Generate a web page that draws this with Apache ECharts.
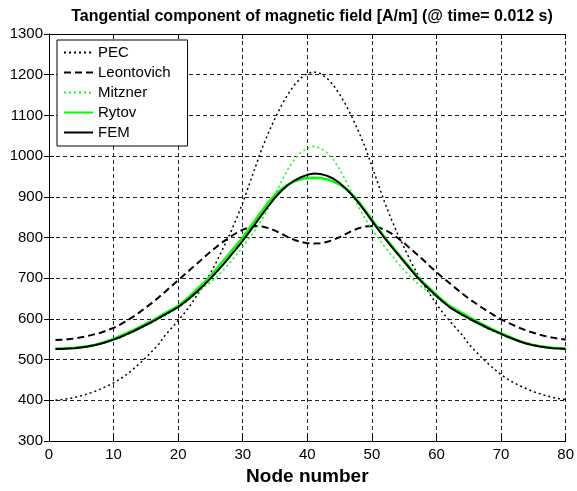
<!DOCTYPE html>
<html>
<head>
<meta charset="utf-8">
<script src="https://cdn.jsdelivr.net/npm/echarts@6/dist/echarts.min.js"></script>
<style>
html,body{margin:0;padding:0;background:#fff;}
#c{width:577px;height:491px;}
</style>
</head>
<body>
<div id="c"></div>
<script>
var titleText = 'Tangential component of magnetic field [A/m] (@ time= 0.012 s)';
var xName = 'Node number';
var seriesNames = ['PEC', 'Leontovich', 'Mitzner', 'Rytov', 'FEM'];
var xTicks = [0, 10, 20, 30, 40, 50, 60, 70, 80];
var yTicks = [300, 400, 500, 600, 700, 800, 900, 1000, 1100, 1200, 1300];

var nodes = [1,2,3,4,5,6,7,8,9,10,11,12,13,14,15,16,17,18,19,20,
  21,22,23,24,25,26,27,28,29,30,31,32,33,34,35,36,37,38,39,40,
  41,42,43,44,45,46,47,48,49,50,51,52,53,54,55,56,57,58,59,60,
  61,62,63,64,65,66,67,68,69,70,71,72,73,74,75,76,77,78,79,80];

var pec = [400,402,404,407,411,416,421,428,435,443,452,463,476,490,505,521,538,560,578,596,
  615,636,660,685,712,742,775,808,845,885,930,975,1020,1058,1093,1125,1152,1175,1192,1203,
  1207,1203,1192,1175,1152,1125,1093,1058,1020,975,930,885,845,808,775,742,712,685,660,636,
  615,596,578,560,538,521,505,490,476,463,452,443,435,428,421,416,411,407,404,402];

var leontovich = [548,549,550,552,555,558,562,566,572,578,586,595,605,616,628,640,653,667,681,695,
  709,723,737,751,765,778,790,801,811,819,825,828,827,823,817,809,801,794,789,786,
  785,786,789,794,801,809,817,823,827,828,825,819,810,799,786,772,758,744,729,715,
  701,688,675,662,650,639,628,618,608,599,591,584,577,571,566,561,557,554,551,549];

var mitzner = [526,526,527,528,530,532,535,539,543,548,554,561,568,576,584,592,600,609,618,628,
  639,651,664,678,690,703,720,738,757,777,798,820,845,873,905,938,968,992,1009,1020,
  1024,1020,1009,992,968,938,905,873,845,820,798,777,757,738,720,703,688,676,664,653,
  641,630,619,609,600,591,583,575,568,561,555,549,544,539,535,532,530,528,527,526];

var rytov = [527,527,528,529,531,533,536,540,545,551,558,565,572,580,588,596,605,614,623,632,
  645,659,674,689,705,724,743,762,781,800,822,844,866,887,905,919,930,938,943,946,
  947,946,943,938,930,919,905,887,866,844,822,800,781,762,743,724,705,689,674,659,
  645,632,623,614,605,596,588,580,572,565,558,551,545,540,536,533,531,529,528,527];

var fem = [526,526,527,528,530,532,535,539,544,549,555,562,569,577,585,593,602,611,620,629,
  641,654,668,683,699,716,734,753,772,792,813,835,857,878,898,915,929,940,948,954,
  957,956,952,945,934,920,903,884,863,841,819,798,778,759,740,721,703,686,671,656,
  642,629,619,610,601,593,585,577,570,563,556,550,544,539,535,532,530,528,527,526];

var values = [pec, leontovich, mitzner, rytov, fem];
var styles = [
  {color:'#000000', width:1.5, type:[2,3]},
  {color:'#000000', width:2, type:[7,4]},
  {color:'#00ff00', width:1.5, type:[2,3]},
  {color:'#00ff00', width:2.5, type:'solid'},
  {color:'#000000', width:2, type:'solid'}
];

function pairs(v){ return nodes.map(function(n,i){ return [n, v[i]]; }); }

var series = seriesNames.map(function(name, k){
  return {
    name: name, type: 'line', data: pairs(values[k]),
    xAxisIndex: 0, yAxisIndex: 0,
    symbol: 'none', smooth: false, animation: false,
    lineStyle: styles[k], itemStyle: {color: styles[k].color},
    z: 2 + k
  };
});

var font = '"Liberation Sans", Arial, sans-serif';
var chart = echarts.init(document.getElementById('c'), null, {renderer:'canvas'});
var axisLine = {show:true, lineStyle:{color:'#000', width:1}};
chart.setOption({
  backgroundColor: '#ffffff',
  animation: false,
  graphic: [{
    type: 'text', x: 312, y: 17,
    style: {text: titleText, fill:'#000', font: 'bold 16px ' + font, textAlign:'center', textVerticalAlign:'middle'}
  }],
  legend: {
    data: seriesNames, orient: 'vertical', left: 57, top: 40,
    itemWidth: 29, itemHeight: 14, itemGap: 5,
    padding: [5, 17, 6, 6],
    backgroundColor: '#fff', borderColor: '#000', borderWidth: 1, borderRadius: 0,
    textStyle: {color:'#000', fontSize: 15, fontFamily: font},
    itemStyle: {opacity: 0}
  },
  grid: {left: 49, right: 6, top: 34, bottom: 44.5, containLabel: false},
  xAxis: [{
    type: 'value', min: 0, max: 80, interval: 10, position: 'bottom',
    name: xName, nameLocation: 'middle', nameGap: 26,
    nameTextStyle: {color:'#000', fontSize: 19, fontWeight:'bold', fontFamily: font},
    axisLine: axisLine,
    axisTick: {show:true, inside:true, length:5, lineStyle:{color:'#000'}},
    axisLabel: {color:'#000', fontSize: 15, fontFamily: font, margin: 6,
      formatter: function(v){ return String(v); }},
    splitLine: {show:true, lineStyle:{color:'#222', width:1, type:[4,3]}}
  },{
    type: 'value', min: 0, max: 80, interval: 10, position: 'top',
    axisLine: axisLine,
    axisTick: {show:true, inside:true, length:5, lineStyle:{color:'#000'}},
    axisLabel: {show:false}, splitLine: {show:false}
  }],
  yAxis: [{
    type: 'value', min: 300, max: 1300, interval: 100, position: 'left',
    axisLine: axisLine,
    axisTick: {show:true, inside:true, length:5, lineStyle:{color:'#000'}},
    axisLabel: {color:'#000', fontSize: 15, fontFamily: font, margin: 6,
      formatter: function(v){ return String(v); }},
    splitLine: {show:true, lineStyle:{color:'#222', width:1, type:[4,3]}}
  },{
    type: 'value', min: 300, max: 1300, interval: 100, position: 'right',
    axisLine: axisLine,
    axisTick: {show:true, inside:true, length:5, lineStyle:{color:'#000'}},
    axisLabel: {show:false}, splitLine: {show:false}
  }],
  series: series
});
</script>
</body>
</html>
